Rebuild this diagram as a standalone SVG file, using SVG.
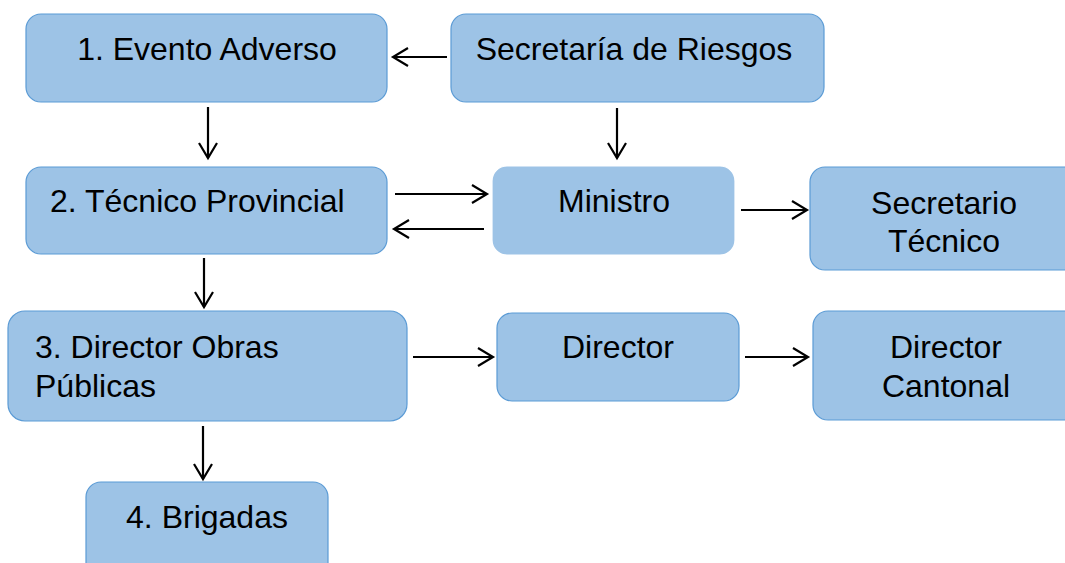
<svg xmlns="http://www.w3.org/2000/svg" width="1065" height="563" viewBox="0 0 1065 563">
<defs>
<marker id="arr" markerUnits="userSpaceOnUse" markerWidth="20" markerHeight="22" viewBox="-17 -10 20 20" refX="0" refY="0" orient="auto">
<path d="M-15,-9 L0,0 L-15,9" fill="none" stroke="#000" stroke-width="2.2"/>
</marker>
</defs>
<style>
.box{fill:#9DC3E6;stroke:#5B9BD5;stroke-width:1.2}
.nob{fill:#9DC3E6;stroke:#ffffff;stroke-width:1.2}
text{font-family:"Liberation Sans",Arial,sans-serif;font-size:32px;fill:#000}
.c{text-anchor:middle}
.con line{stroke:#000;stroke-width:2.2;marker-end:url(#arr)}
</style>
<rect width="1065" height="563" fill="#fff"/>
<g id="n1"><rect class="box" x="26" y="14" width="361" height="88" rx="15"/><text class="c" x="207" y="60">1. Evento Adverso</text></g>
<g id="n_sr"><rect class="box" x="451" y="14" width="373" height="88" rx="15"/><text class="c" x="634" y="60">Secretaría de Riesgos</text></g>
<g id="n2"><rect class="box" x="26" y="167" width="361" height="87" rx="15"/><text x="50" y="212">2. Técnico Provincial</text></g>
<g id="n_min"><rect class="nob" x="492" y="166" width="243" height="89" rx="15"/><text class="c" x="614" y="212">Ministro</text></g>
<g id="n_st"><rect class="box" x="810" y="167" width="275" height="103" rx="15"/><text class="c" x="944" y="214">Secretario</text><text class="c" x="944" y="252">Técnico</text></g>
<g id="n3"><rect class="box" x="8" y="311" width="399" height="110" rx="17"/><text x="35" y="358">3. Director Obras</text><text x="35" y="397">Públicas</text></g>
<g id="n_dir"><rect class="box" x="497" y="313" width="242" height="88" rx="15"/><text class="c" x="618" y="358">Director</text></g>
<g id="n_dc"><rect class="box" x="813" y="311" width="272" height="109" rx="15"/><text class="c" x="946" y="358">Director</text><text class="c" x="946" y="397">Cantonal</text></g>
<g id="n4"><rect class="box" x="86" y="482" width="242" height="100" rx="15"/><text class="c" x="207" y="528">4. Brigadas</text></g>
<g id="connectors" class="con">
<line x1="447" y1="57" x2="393" y2="57"/>
<line x1="208" y1="107" x2="208" y2="158"/>
<line x1="617" y1="108" x2="617" y2="158"/>
<line x1="395" y1="194" x2="487" y2="194"/>
<line x1="484" y1="229" x2="394" y2="229"/>
<line x1="741" y1="210" x2="807" y2="210"/>
<line x1="204" y1="258" x2="204" y2="307"/>
<line x1="413" y1="357" x2="493" y2="357"/>
<line x1="745" y1="357" x2="808" y2="357"/>
<line x1="203" y1="426" x2="203" y2="479"/>
</g>
</svg>
